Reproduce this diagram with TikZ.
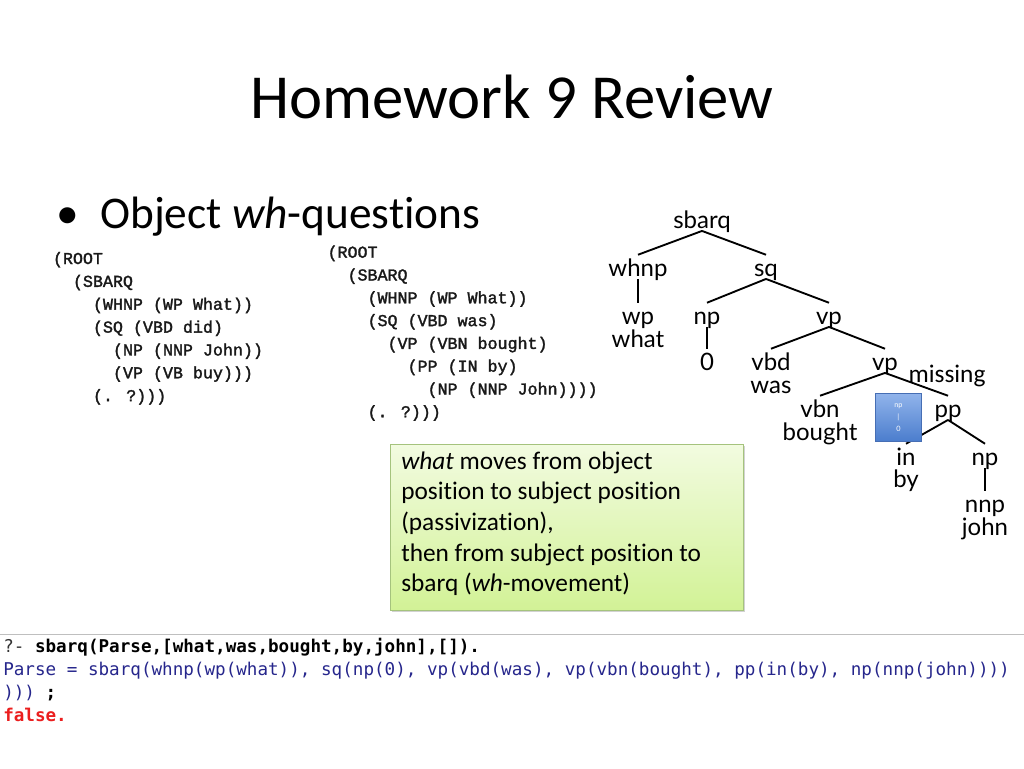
\documentclass[tikz,border=0pt]{standalone}
\usepackage{fontspec}
\setmainfont{Carlito}[Ligatures=NoCommon]
\newfontfamily\treefont{Lato}
\newfontfamily\codefont[FakeBold=1.8]{Liberation Mono}
\newfontfamily\consfont{DejaVu Sans Mono}
\usetikzlibrary{shadows}
\definecolor{navy}{RGB}{38,38,140}
\definecolor{errred}{RGB}{235,30,30}
\definecolor{gtop}{RGB}{242,251,224}
\definecolor{gbot}{RGB}{210,242,150}
\definecolor{gborder}{RGB}{165,195,125}
\definecolor{btop}{RGB}{145,180,235}
\definecolor{bbot}{RGB}{75,125,205}
\definecolor{bborder}{RGB}{70,110,180}
\begin{document}
\begin{tikzpicture}[x=0.75pt,y=-0.75pt,
  tn/.style={font=\treefont\fontsize{18}{21}\selectfont, inner sep=0pt, text height=15.75pt, text depth=2pt, anchor=base},
  tnb/.style={font=\treefont\fontsize{18}{21}\selectfont, inner sep=0pt, anchor=base},
  treeedge/.style={line width=1.4pt, black},
  codetext/.style={anchor=base west, inner sep=0pt, text=black!90},
]
\useasboundingbox (0,0) rectangle (1024,768);
\fill[white] (0,0) rectangle (1024,768);

% title and bullet
\node[font=\fontsize{47}{56}\selectfont, anchor=base, inner sep=0pt] (title) at (512,118) {Homework 9 Review};
\node[font=\fontsize{34}{40}\selectfont, anchor=base west, inner sep=0pt] (bul) at (56,228) {•};
\node[font=\fontsize{34}{40}\selectfont, anchor=base west, inner sep=0pt] (obj) at (100,228) {Object \textit{wh}-questions};

% code blocks
\node[codetext] (codeL) at (52.7,264) {\codefont\fontsize{12.5}{17.15}\selectfont
\begin{minipage}[t]{220pt}\raggedright
(ROOT\\
\phantom{xx}(SBARQ\\
\phantom{xxxx}(WHNP (WP What))\\
\phantom{xxxx}(SQ (VBD did)\\
\phantom{xxxxxx}(NP (NNP John))\\
\phantom{xxxxxx}(VP (VB buy)))\\
\phantom{xxxx}(. ?)))
\end{minipage}};
\node[codetext] (codeR) at (327.3,257.7) {\codefont\fontsize{12.5}{17.1}\selectfont
\begin{minipage}[t]{220pt}\raggedright
(ROOT\\
\phantom{xx}(SBARQ\\
\phantom{xxxx}(WHNP (WP What))\\
\phantom{xxxx}(SQ (VBD was)\\
\phantom{xxxxxx}(VP (VBN bought)\\
\phantom{xxxxxxxx}(PP (IN by)\\
\phantom{xxxxxxxxxx}(NP (NNP John))))\\
\phantom{xxxx}(. ?)))
\end{minipage}};

% tree
\node[tn] (sbarq) at (702,228) {sbarq};
\node[tn] (whnp) at (638,276) {whnp};
\node[tn] (sq) at (766,276) {sq};
\node[tn] (wp) at (638,324) {wp};
\node[tnb] (what) at (638,347) {what};
\node[tn] (np) at (707,324) {np};
\node[tn] (zero) at (707,370) {0};
\node[tn] (vp) at (829,324) {vp};
\node[tn] (vbd) at (771,370) {vbd};
\node[tnb] (was) at (771,393) {was};
\node[tn] (vpb) at (885,370) {vp};
\node[tn] (vbn) at (820,417) {vbn};
\node[tnb] (bought) at (820,440) {bought};
\node[tn] (pp) at (948,417) {pp};
\node[tn] (in) at (906,465) {in};
\node[tnb] (by) at (906,487) {by};
\node[tn] (npb) at (985,465) {np};
\node[tn] (nnp) at (985,512) {nnp};
\node[tnb] (john) at (985,535) {john};

\draw[treeedge] (sbarq.south) -- (whnp.north);
\draw[treeedge] (sbarq.south) -- (sq.north);
\draw[treeedge] (whnp.south) -- (wp.north);
\draw[treeedge] (sq.south) -- (np.north);
\draw[treeedge] (sq.south) -- (vp.north);
\draw[treeedge] (np.south) -- (zero.north);
\draw[treeedge] (vp.south) -- (vbd.north);
\draw[treeedge] (vp.south) -- (vpb.north);
\draw[treeedge] (vpb.south) -- (vbn.north);
\draw[treeedge] (vpb.south) -- (pp.north);
\draw[treeedge] (pp.south) -- (in.north);
\draw[treeedge] (pp.south) -- (npb.north);
\draw[treeedge] (npb.south) -- (nnp.north);

\node[font=\fontsize{19}{23}\selectfont, anchor=base, inner sep=0pt] (miss) at (947,382) {missing};

% blue box
\node[draw=bborder, line width=0.6pt, top color=btop, bottom color=bbot, minimum width=34.5pt, minimum height=36pt, anchor=north west, inner sep=0pt] (bbox) at (875,393) {};
\node[text=white, font=\treefont\fontsize{5.5}{9}\selectfont, align=center, inner sep=0pt] (btext) at (bbox.center) {np\\|\\0};

% green box
\node[draw=gborder, line width=0.6pt, top color=gtop, bottom color=gbot, minimum width=264.75pt, minimum height=124.5pt, anchor=north west, inner sep=0pt, drop shadow={shadow xshift=1.5pt, shadow yshift=-1.5pt, opacity=0.35}] (gbox) at (390,444) {};
\node[anchor=base west, inner sep=0pt, font=\fontsize{19}{23}\selectfont] (gtext) at (401,469) {\begin{minipage}[t]{262pt}\raggedright
\textit{what} moves from object\\
position to subject position\\
(passivization),\\
then from subject position to\\
sbarq (\textit{wh}-movement)
\end{minipage}};

% console
\draw[black!25, line width=1.1pt] (0,634.5) -- (1024,634.5);
\node[anchor=base west, inner sep=0pt] (cons) at (3,652.7) {\consfont\fontsize{13.2}{17.25}\selectfont
\begin{minipage}[t]{768pt}\raggedright
\textcolor{black!80}{?- }\textbf{sbarq(Parse,[what,was,bought,by,john],[]).}\\
\textcolor{navy}{Parse = sbarq(whnp(wp(what)), sq(np(0), vp(vbd(was), vp(vbn(bought), pp(in(by), np(nnp(john))))}\\
\textcolor{navy}{)))}\textbf{ ;}\\
\textcolor{errred}{\textbf{false.}}
\end{minipage}};
\end{tikzpicture}
\end{document}
